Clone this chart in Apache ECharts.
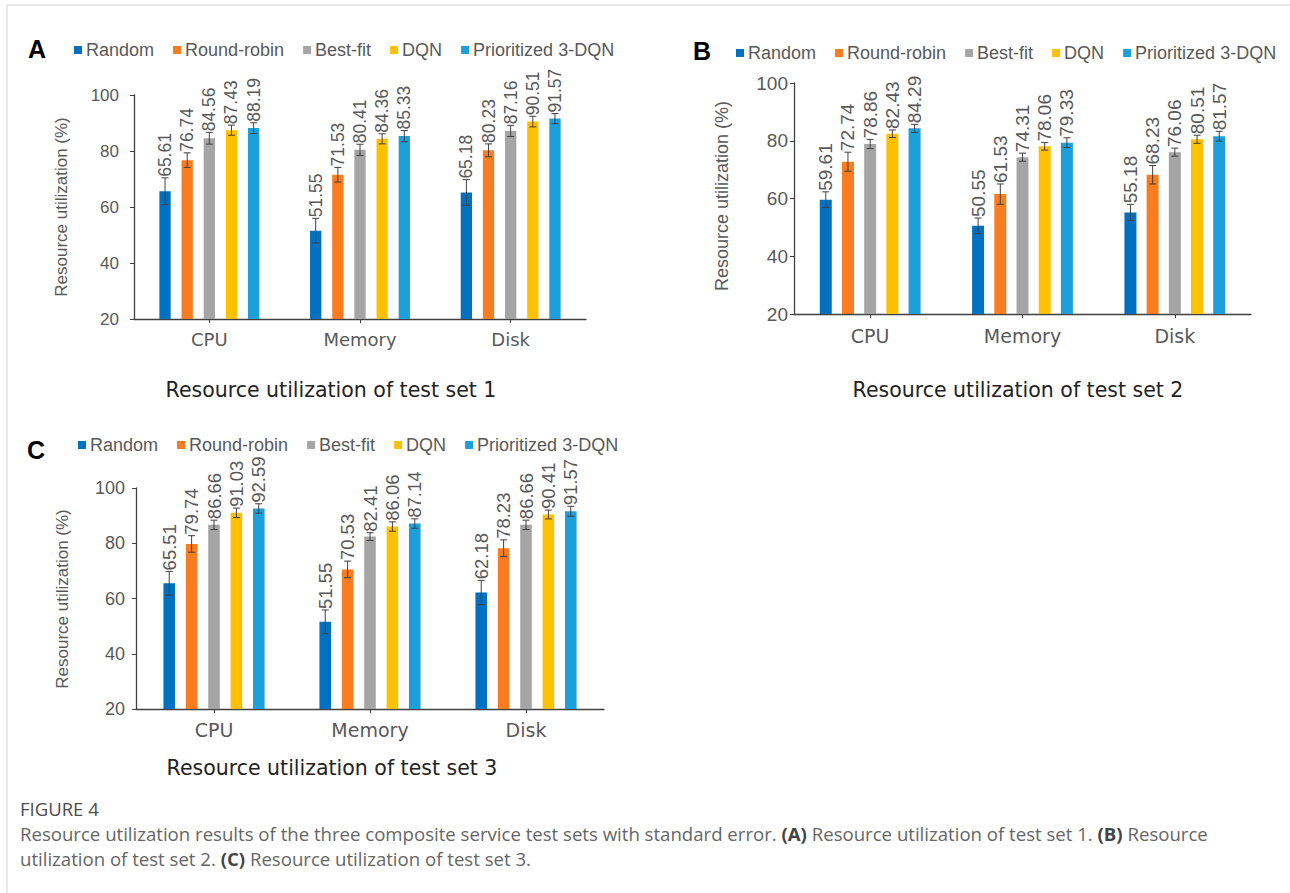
<!DOCTYPE html>
<html>
<head>
<meta charset="utf-8">
<script src="https://cdn.jsdelivr.net/npm/echarts@6/dist/echarts.min.js"></script>
<style>
html,body{margin:0;padding:0;background:#fff;}
#chart{width:1290px;height:893px;}
</style>
</head>
<body>
<div id="chart"></div>
<script>
// ---------- DATA ----------
const categories = ['CPU', 'Memory', 'Disk'];
const methods = ['Random', 'Round-robin', 'Best-fit', 'DQN', 'Prioritized 3-DQN'];
const yTicks = [20, 40, 60, 80, 100];

// values per method (rows) x category (CPU, Memory, Disk)
const set1Values = [
  [65.61, 51.55, 65.18],
  [76.74, 71.53, 80.23],
  [84.56, 80.41, 87.16],
  [87.43, 84.36, 90.51],
  [88.19, 85.33, 91.57]
];
const set1Errors = [
  [4.8, 4.4, 4.6],
  [2.6, 2.6, 2.3],
  [2.1, 2.0, 2.0],
  [1.8, 1.8, 1.9],
  [1.9, 2.0, 1.8]
];
const set2Values = [
  [59.61, 50.55, 55.18],
  [72.74, 61.53, 68.23],
  [78.86, 74.31, 76.06],
  [82.43, 78.06, 80.51],
  [84.29, 79.33, 81.57]
];
const set2Errors = [
  [2.7, 2.7, 2.8],
  [3.3, 3.5, 3.2],
  [1.6, 1.4, 1.4],
  [1.3, 1.3, 1.4],
  [1.4, 1.7, 1.7]
];
const set3Values = [
  [65.51, 51.55, 62.18],
  [79.74, 70.53, 78.23],
  [86.66, 82.41, 86.66],
  [91.03, 86.06, 90.41],
  [92.59, 87.14, 91.57]
];
const set3Errors = [
  [4.3, 4.3, 4.4],
  [3.0, 3.0, 3.0],
  [1.7, 1.4, 1.7],
  [1.7, 1.7, 1.6],
  [1.7, 1.7, 1.8]
];

const colors = ['#0070C0', '#F97C21', '#A5A5A5', '#FFC000', '#1C9FDA'];
const FONT = '"Liberation Sans", Arial, sans-serif';
const WIDE = '"DejaVu Sans", "Liberation Sans", sans-serif';
const CAPF = '"Open Sans", "Noto Sans", sans-serif';
const GRAY = '#595959';

// ---------- PANEL LAYOUT ----------
const panels = [
  { values: set1Values, errors: set1Errors, grid: {left: 134, top: 95, width: 452, height: 224},
    barWidth: 11.3, barGap: 0.96, tickFont: 17, tickMargin: 15, valFont: 17.5, catFont: 18, catMargin: 11 },
  { values: set2Values, errors: set2Errors, grid: {left: 794, top: 83, width: 457, height: 231},
    barWidth: 12, barGap: 0.85, tickFont: 19, tickMargin: 6, valFont: 19, catFont: 19, catMargin: 12 },
  { values: set3Values, errors: set3Errors, grid: {left: 136, top: 488, width: 468, height: 221},
    barWidth: 11.6, barGap: 0.93, tickFont: 18, tickMargin: 11, valFont: 18.5, catFont: 19, catMargin: 11 }
];

const grids = [], xAxes = [], yAxes = [], series = [];
panels.forEach((p, pi) => {
  grids.push(Object.assign({containLabel: false}, p.grid));
  xAxes.push({
    type: 'category', gridIndex: pi, data: categories,
    axisLine: {show: true, lineStyle: {color: '#404040', width: 1.3}},
    axisTick: {show: true, alignWithLabel: true, length: 4, lineStyle: {color: '#404040'}},
    axisLabel: {fontFamily: WIDE, fontSize: p.catFont, color: GRAY, margin: p.catMargin},
    splitLine: {show: false}
  });
  yAxes.push({
    type: 'value', gridIndex: pi, min: yTicks[0], max: yTicks[yTicks.length - 1], interval: 20,
    axisLine: {show: true, lineStyle: {color: '#404040', width: 1.3}},
    axisTick: {show: true, length: 4, lineStyle: {color: '#404040'}},
    axisLabel: {fontFamily: FONT, fontSize: p.tickFont, color: GRAY, margin: p.tickMargin},
    splitLine: {show: false}
  });
  methods.forEach((m, mi) => {
    series.push({
      type: 'bar', name: m, xAxisIndex: pi, yAxisIndex: pi,
      data: p.values[mi], barWidth: p.barWidth, barGap: (p.barGap * 100) + '%',
      itemStyle: {color: colors[mi]}, silent: true
    });
  });
  const spacing = p.barWidth * (1 + p.barGap);
  const errData = [];
  methods.forEach((m, mi) => {
    categories.forEach((c, ci) => {
      errData.push([ci, mi, p.values[mi][ci], p.errors[mi][ci]]);
    });
  });
  series.push({
    type: 'custom', xAxisIndex: pi, yAxisIndex: pi, data: errData, z: 10, silent: true,
    encode: {x: 0, y: 2},
    renderItem: function (params, api) {
      const c = api.value(0), m = api.value(1), v = api.value(2), e = api.value(3);
      const base = api.coord([c, v]);
      const x = base[0] + (m - 2) * spacing;
      const yt = api.coord([c, v + e])[1];
      const yb = api.coord([c, v - e])[1];
      const cap = 3.5;
      const st = {stroke: '#404040', lineWidth: 1};
      return {
        type: 'group',
        children: [
          {type: 'line', shape: {x1: x, y1: yt, x2: x, y2: yb}, style: st},
          {type: 'line', shape: {x1: x - cap, y1: yt, x2: x + cap, y2: yt}, style: st},
          {type: 'line', shape: {x1: x - cap, y1: yb, x2: x + cap, y2: yb}, style: st},
          {type: 'text', x: x, y: yt - 1, rotation: Math.PI / 2,
           style: {text: v.toFixed(2), align: 'left', verticalAlign: 'middle',
                   fontSize: p.valFont, fontFamily: FONT, fill: GRAY}}
        ]
      };
    }
  });
});

function legendAt(left, top) {
  return {
    left: left, top: top, padding: 0, itemWidth: 8, itemHeight: 8, itemGap: 19,
    icon: 'rect', selectedMode: false, data: methods,
    textStyle: {fontFamily: FONT, fontSize: 18, color: GRAY, padding: [0, 0, 0, -1]}
  };
}

function yName(x, y, size) {
  return {type: 'text', x: x, y: y, rotation: Math.PI / 2,
    style: {text: 'Resource utilization (%)', align: 'center', verticalAlign: 'middle',
            fontSize: size, fontFamily: FONT, fill: GRAY}};
}
function letter(t, x, y) {
  return {type: 'text', x: x, y: y,
    style: {text: t, align: 'center', verticalAlign: 'middle', fontSize: 25,
            fontWeight: 'bold', fontFamily: FONT, fill: '#000'}};
}
function subtitle(t, x, y) {
  return {type: 'text', x: x, y: y,
    style: {text: t, align: 'center', verticalAlign: 'middle', fontSize: 20.5,
            fontFamily: WIDE, fill: '#222'}};
}
function caption(t, x, y, size, color) {
  return {type: 'text', x: x, y: y,
    style: {text: t, align: 'left', verticalAlign: 'middle', fontSize: size,
            fontFamily: CAPF, fill: color,
            rich: {b: {fontWeight: 'bold', fontSize: size, fontFamily: CAPF, fill: '#444'}}}};
}

const option = {
  animation: false,
  backgroundColor: '#ffffff',
  grid: grids,
  xAxis: xAxes,
  yAxis: yAxes,
  legend: [legendAt(74, 41), legendAt(736, 44), legendAt(78, 436)],
  series: series,
  graphic: [
    {type: 'rect', shape: {x: 7, y: 5, width: 1400, height: 1000},
     style: {fill: 'none', stroke: '#d4d4d4', lineWidth: 1}, silent: true},
    letter('A', 37, 49), letter('B', 702, 51), letter('C', 36, 450),
    yName(61, 207, 17), yName(722, 196, 18), yName(62, 599, 17),
    subtitle('Resource utilization of test set 1', 331, 390),
    subtitle('Resource utilization of test set 2', 1018, 390),
    subtitle('Resource utilization of test set 3', 332, 768),
    caption('FIGURE 4', 20, 808, 18.5, '#4d4d4d'),
    caption('Resource utilization results of the three composite service test sets with standard error. {b|(A)} Resource utilization of test set 1. {b|(B)} Resource', 20, 833, 18.6, '#666'),
    caption('utilization of test set 2. {b|(C)} Resource utilization of test set 3.', 20, 858, 18.6, '#666')
  ]
};

const chart = echarts.init(document.getElementById('chart'), null, {renderer: 'svg', width: 1290, height: 893});
chart.setOption(option);
</script>
</body>
</html>
